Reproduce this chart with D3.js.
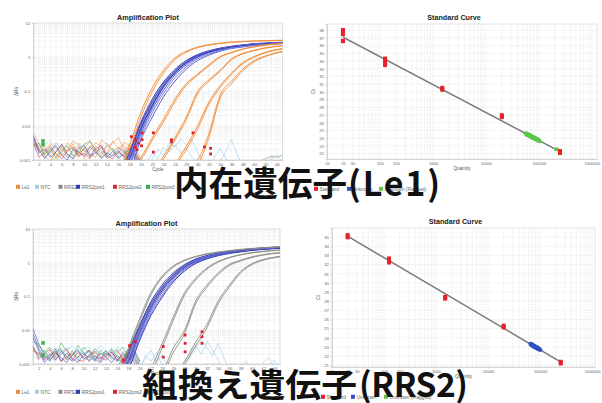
<!DOCTYPE html>
<html>
<head>
<meta charset="utf-8">
<script src="https://cdn.jsdelivr.net/npm/d3@7/dist/d3.min.js"></script>
<style>
  html, body { margin: 0; padding: 0; background: #fff; }
  svg { display: block; }
</style>
</head>
<body>
<svg id="chart" width="602" height="403"></svg>
<script>
// ---------- axis values ----------
const cycleTicks = [2,4,6,8,10,12,14,16,18,20,22,24,26,28,30,32,34,36,38,40,42,44];
const rnTicks = [0.001, 0.01, 0.1, 1, 10];
const rnTickLabels = ["0.001", "0.01", "0.1", "1", "10"];
const qtyTicks = [10, 20, 30, 100, 200, 1000, 10000, 100000, 1000000];
const ctTicksTop = [22,23,24,25,26,27,28,29,30,31,32,33,34,35,36,37,38];
const ctTicksBottom = [21,22,23,24,25,26,27,28,29,30,31,32,33,34,35];

const ampLegend = ["Le1", "NTC", "RRS2", "RRS2pos1", "RRS2pos2", "RRS2pos3"];
const stdLegend = ["Standard", "Unknown", "Unknown (Flagged)"];

// ---------- cycle grids ----------
const ampCycles = [16,18,20,22,24,26,28,30,32,34,36,38,40,42,45];
const baseCycles = [1,2,3,4,5,6,7,8,9,10,11,12,13,14,15,16,17,18,19,20];
const lateCycles = [20,21,22,23,24,25,26,27,28,29,30,31,32,33,34,35,36,37,38,39,40,41,42,43,44,45];

// ---------- Le1 run: amplification (ΔRn at ampCycles) ----------
const curvesTop = [
  {s:"Le1", v:[0.0004,0.0028,0.025,0.13,0.42,0.95,1.5,2.0,2.35,2.6,2.8,2.9,3.0,3.05,3.15]},
  {s:"Le1", v:[0.0003,0.002,0.018,0.10,0.35,0.85,1.4,1.9,2.25,2.5,2.7,2.85,2.95,3.0,3.1]},
  {s:"Le1", v:[0.0003,0.0005,0.0012,0.0045,0.016,0.06,0.17,0.32,0.6,1.05,1.4,1.75,2.05,2.3,2.6]},
  {s:"Le1", v:[0.0003,0.0004,0.001,0.0038,0.013,0.05,0.15,0.3,0.56,1.0,1.35,1.7,2.0,2.25,2.55]},
  {s:"Le1", v:[0.0003,0.0003,0.0004,0.0005,0.0013,0.0045,0.018,0.1,0.22,0.42,0.9,1.3,1.6,1.9,2.2]},
  {s:"Le1", v:[0.0003,0.0003,0.0004,0.0005,0.0011,0.0038,0.015,0.085,0.2,0.39,0.85,1.25,1.55,1.85,2.15]},
  {s:"Le1", v:[0.0003,0.0003,0.0003,0.0004,0.0005,0.0008,0.0025,0.01,0.05,0.15,0.35,0.7,1.05,1.4,1.8]},
  {s:"Le1", v:[0.0003,0.0003,0.0003,0.0004,0.0005,0.0007,0.002,0.008,0.042,0.13,0.32,0.65,1.0,1.35,1.75]},
  {s:"Le1", v:[0.0003,0.0003,0.0003,0.0003,0.0004,0.0005,0.0006,0.001,0.006,0.08,0.2,0.45,0.8,1.1,1.5]},
  {s:"Le1", v:[0.0003,0.0003,0.0003,0.0003,0.0004,0.0005,0.0006,0.0008,0.0045,0.065,0.17,0.4,0.74,1.05,1.45]},
  {s:"RRS2pos2", v:[0.0004,0.0016,0.011,0.05,0.16,0.39,0.72,1.12,1.48,1.78,2.03,2.23,2.43,2.53,2.68]},
  {s:"RRS2pos3", v:[0.0005,0.0019,0.009,0.04,0.14,0.36,0.7,1.1,1.45,1.75,2.0,2.2,2.4,2.5,2.65]}
];
const bundleTop = [
  [0.0003,0.0015,0.011,0.05,0.17,0.4,0.75,1.15,1.5,1.8,2.05,2.25,2.45,2.55,2.7],
  [0.0003,0.0012,0.009,0.042,0.15,0.37,0.7,1.1,1.45,1.75,2.0,2.2,2.4,2.5,2.65],
  [0.0003,0.001,0.007,0.035,0.13,0.33,0.65,1.03,1.4,1.7,1.95,2.15,2.35,2.45,2.6],
  [0.0003,0.0018,0.013,0.06,0.19,0.44,0.8,1.2,1.55,1.85,2.1,2.3,2.5,2.6,2.75],
  [0.0003,0.0008,0.006,0.03,0.11,0.3,0.6,0.98,1.35,1.65,1.9,2.1,2.3,2.4,2.55],
  [0.0003,0.0014,0.01,0.046,0.16,0.39,0.72,1.12,1.48,1.78,2.03,2.23,2.43,2.53,2.68],
  [0.0003,0.0011,0.008,0.038,0.14,0.35,0.68,1.07,1.43,1.73,1.98,2.18,2.38,2.48,2.62],
  [0.0003,0.0005,0.004,0.018,0.07,0.2,0.45,0.8,1.15,1.5,1.8,2.0,2.2,2.35,2.5],
  [0.0003,0.0007,0.005,0.024,0.09,0.25,0.52,0.9,1.25,1.58,1.85,2.05,2.26,2.38,2.52]
];
const noiseTop = [
  {s:"Le1", v:[0.006,0.003,0.0015,0.002,0.0012,0.0025,0.0018,0.003,0.0014,0.0022,0.0035,0.002,0.0013,0.0028,0.0019,0.0024,0.0016,0.003,0.0012,0.0008]},
  {s:"Le1", v:[0.004,0.0022,0.0013,0.0009,0.0018,0.0028,0.0012,0.0016,0.0026,0.0011,0.0019,0.0032,0.0025,0.0015,0.0036,0.0022,0.0028,0.0018,0.0025,0.001]},
  {s:"Le1", v:[0.0035,0.0018,0.0026,0.0014,0.0009,0.0016,0.0032,0.0021,0.0012,0.0024,0.0015,0.0012,0.0038,0.0029,0.002,0.0015,0.0034,0.0026,0.0014,0.0006]},
  {s:"Le1", v:[0.003,0.0025,0.0019,0.003,0.0022,0.0013,0.0021,0.0036,0.0028,0.0017,0.0026,0.0021,0.0016,0.0024,0.0031,0.0045,0.0021,0.0013,0.0019,0.0009]},
  {s:"RRS2pos1", v:[0.005,0.002,0.0011,0.0019,0.0026,0.0014,0.001,0.0021,0.0017,0.0013,0.0024,0.0017,0.0011,0.0016,0.0013,0.0019,0.0012,0.0017,0.0011,0.0007]},
  {s:"RRS2pos1", v:[0.0045,0.0016,0.0021,0.0012,0.0017,0.0029,0.0015,0.0011,0.0022,0.0027,0.0013,0.0016,0.0024,0.0012,0.0018,0.0011,0.0015,0.0021,0.0013,0.0008]},
  {s:"RRS2pos3", v:[0.0025,0.0031,0.0014,0.0023,0.0011,0.0019,0.0026,0.0013,0.0017,0.0029,0.0036,0.0018,0.0012,0.0015,0.0022,0.0012,0.0018,0.0011,0.0015,0.0009]},
  {s:"RRS2pos2", v:[0.0032,0.0012,0.0017,0.0026,0.0015,0.0011,0.0018,0.0024,0.0013,0.0016,0.0011,0.0021,0.0027,0.0013,0.0011,0.0017,0.0013,0.0023,0.0016,0.0008]},
  {s:"NTC", v:[0.0021,0.0015,0.0028,0.0038,0.0021,0.0017,0.0012,0.0019,0.0031,0.0019,0.0014,0.0019,0.0014,0.0032,0.0019,0.0014,0.0024,0.0015,0.0019,0.001]},
  {s:"RRS2", v:[0.0028,0.0019,0.0012,0.0016,0.0031,0.0021,0.0014,0.0011,0.0016,0.0021,0.0012,0.0026,0.0018,0.0011,0.0014,0.0022,0.0019,0.0014,0.0011,0.0007]}
];
const lateTop = [
  {s:"NTC", v:[0.0008,0.0006,0.0011,0.0021,0.0013,0.0032,0.0024,0.0041,0.0028,0.0038,0.0017,0.0009,0.0006,0.0005,0.0009,0.0018,0.0039,0.0014,0.0007,0.0005,0.0006,0.0005,0.0008,0.0012,0.0007,0.0005]},
  {s:"NTC", v:[0.0006,0.0009,0.0016,0.0011,0.0024,0.0017,0.0028,0.0016,0.0022,0.0012,0.0008,0.0005,0.0006,0.0012,0.0022,0.0011,0.0006,0.0005,0.0005,0.0009,0.0007,0.0005,0.0006,0.0011,0.0014,0.0009]},
  {s:"RRS2", v:[0.0005,0.0005,0.0005,0.0005,0.0005,0.0005,0.0005,0.0005,0.0005,0.0005,0.0005,0.0005,0.0005,0.0005,0.0005,0.0005,0.0005,0.0005,0.0005,0.0005,0.0008,0.0009,0.0011,0.0013,0.0012,0.0014]}
];
const ctMarksTop = [[18.3,0.0048],[19.0,0.0039],[19.0,0.0024],[19.3,0.002],[19.6,0.0031],[20.2,0.0062],[20.2,0.0039],[20.1,0.0026],[22.2,0.0062],[22.2,0.0017],[25.4,0.0034],[25.4,0.0039],[29.2,0.0062],[31.2,0.0024],[32.3,0.0022],[32.3,0.0015]];
const greenMarksTop = [[2.7,0.0036],[2.7,0.0028]];

// ---------- RRS2 run: amplification ----------
const curvesBottom = [
  {s:"RRS2", v:[0.0003,0.003,0.022,0.13,0.4,0.8,1.2,1.55,1.85,2.1,2.3,2.5,2.65,2.8,3.0]},
  {s:"RRS2", v:[0.0003,0.0025,0.018,0.11,0.36,0.75,1.15,1.5,1.8,2.05,2.25,2.45,2.6,2.75,2.95]},
  {s:"RRS2", v:[0.0003,0.0003,0.0004,0.0008,0.004,0.025,0.13,0.35,0.7,1.1,1.45,1.75,2.0,2.2,2.4]},
  {s:"RRS2", v:[0.0003,0.0003,0.0004,0.0006,0.003,0.02,0.11,0.31,0.65,1.05,1.4,1.7,1.95,2.15,2.35]},
  {s:"RRS2", v:[0.0003,0.0003,0.0003,0.0004,0.0006,0.003,0.01,0.075,0.22,0.5,0.9,1.2,1.5,1.75,2.0]},
  {s:"RRS2", v:[0.0003,0.0003,0.0003,0.0004,0.0005,0.0022,0.008,0.062,0.19,0.45,0.83,1.13,1.42,1.68,1.95]},
  {s:"RRS2", v:[0.0003,0.0003,0.0003,0.0003,0.0004,0.0005,0.0012,0.0045,0.015,0.075,0.22,0.55,0.95,1.25,1.55]},
  {s:"RRS2", v:[0.0003,0.0003,0.0003,0.0003,0.0004,0.0005,0.001,0.0035,0.012,0.062,0.19,0.5,0.88,1.18,1.48]},
  {s:"RRS2pos2", v:[0.0006,0.0024,0.013,0.06,0.19,0.45,0.82,1.22,1.58,1.88,2.13,2.35,2.55,2.7,2.9]},
  {s:"RRS2pos2", v:[0.0005,0.0019,0.011,0.052,0.17,0.41,0.77,1.16,1.52,1.82,2.08,2.3,2.5,2.65,2.85]},
  {s:"RRS2pos3", v:[0.0008,0.0028,0.012,0.055,0.18,0.43,0.8,1.2,1.55,1.85,2.1,2.32,2.52,2.68,2.88]}
];
const bundleBottom = [
  [0.0004,0.0022,0.014,0.07,0.22,0.5,0.88,1.3,1.65,1.95,2.2,2.4,2.6,2.75,2.95],
  [0.0003,0.0018,0.012,0.06,0.19,0.45,0.82,1.22,1.58,1.88,2.13,2.35,2.55,2.7,2.9],
  [0.0003,0.0015,0.01,0.052,0.17,0.41,0.77,1.16,1.52,1.82,2.08,2.3,2.5,2.65,2.85],
  [0.0003,0.0012,0.0085,0.045,0.15,0.37,0.72,1.1,1.46,1.77,2.03,2.25,2.45,2.6,2.8],
  [0.0003,0.001,0.007,0.038,0.13,0.33,0.67,1.05,1.4,1.72,1.98,2.2,2.4,2.56,2.76],
  [0.0003,0.0008,0.006,0.032,0.11,0.3,0.62,1.0,1.35,1.67,1.93,2.15,2.36,2.52,2.72],
  [0.0003,0.0007,0.005,0.027,0.095,0.27,0.57,0.95,1.3,1.62,1.88,2.1,2.32,2.48,2.68],
  [0.0003,0.0013,0.009,0.048,0.16,0.39,0.75,1.13,1.49,1.8,2.05,2.27,2.47,2.62,2.82]
];
const noiseBottom = [
  {s:"RRS2pos1", v:[0.011,0.004,0.0018,0.0012,0.0022,0.0015,0.0011,0.0019,0.0027,0.0014,0.0018,0.0012,0.0021,0.0016,0.0011,0.0018,0.0013,0.0016,0.0011,0.0007]},
  {s:"RRS2pos1", v:[0.008,0.003,0.0014,0.002,0.0013,0.0024,0.0017,0.0012,0.0016,0.0022,0.0012,0.0017,0.0014,0.0025,0.0016,0.0012,0.0022,0.0014,0.0018,0.0009]},
  {s:"RRS2pos1", v:[0.006,0.0025,0.0011,0.0016,0.0028,0.0012,0.0021,0.0015,0.0011,0.0019,0.0026,0.0014,0.0011,0.0017,0.0023,0.0014,0.0011,0.0019,0.0024,0.0012]},
  {s:"RRS2pos3", v:[0.0045,0.0038,0.0022,0.0031,0.0016,0.0042,0.0024,0.0017,0.0036,0.0021,0.0015,0.0028,0.0019,0.0024,0.0014,0.0021,0.0032,0.0017,0.0026,0.0011]},
  {s:"RRS2pos3", v:[0.003,0.0018,0.0026,0.0013,0.0021,0.0029,0.0014,0.0025,0.0015,0.0031,0.0022,0.0013,0.0026,0.0018,0.0029,0.0016,0.0013,0.0024,0.0015,0.0009]},
  {s:"RRS2pos2", v:[0.0035,0.0014,0.002,0.0027,0.0014,0.0019,0.0028,0.0013,0.0022,0.0016,0.0025,0.0018,0.0012,0.0021,0.0017,0.0026,0.0014,0.0012,0.0021,0.0012]},
  {s:"RRS2pos2", v:[0.0025,0.0021,0.0013,0.0018,0.0024,0.0012,0.0016,0.0021,0.0013,0.0012,0.0018,0.0024,0.0016,0.0013,0.0022,0.0013,0.0019,0.0015,0.0013,0.0008]},
  {s:"NTC", v:[0.002,0.0028,0.0017,0.0023,0.0031,0.0018,0.0026,0.0035,0.0022,0.0028,0.0033,0.0021,0.0036,0.0024,0.0018,0.0029,0.0021,0.0016,0.0023,0.0011]},
  {s:"RRS2", v:[0.0032,0.0016,0.0022,0.0014,0.0019,0.0026,0.0013,0.0018,0.0024,0.0015,0.0013,0.0022,0.0015,0.0019,0.0026,0.0012,0.0017,0.0022,0.0014,0.0009]},
  {s:"NTC", v:[0.0018,0.0013,0.0024,0.0016,0.0012,0.0021,0.0032,0.0019,0.0013,0.0024,0.0018,0.0029,0.0022,0.0013,0.0017,0.0034,0.0024,0.0019,0.0028,0.0014]}
];
const lateBottom = [
  {s:"NTC", v:[0.0009,0.0014,0.0026,0.0011,0.0019,0.0008,0.0006,0.0005,0.0009,0.0016,0.0028,0.0052,0.0031,0.0018,0.0041,0.0015,0.0007,0.0005,0.0005,0.0006,0.0005,0.0005,0.0011,0.0016,0.0008,0.0005]},
  {s:"NTC", v:[0.0006,0.0018,0.0012,0.0022,0.0009,0.0006,0.0005,0.0007,0.0012,0.0021,0.0036,0.0019,0.0048,0.0026,0.0013,0.0006,0.0005,0.0005,0.0009,0.0012,0.0006,0.0005,0.0005,0.0009,0.0013,0.0007]}
];
const ctMarksBottom = [[17.1,0.0013],[18.2,0.0035],[19.2,0.0046],[24.2,0.0033],[24.2,0.0016],[28.1,0.0072],[28.1,0.0041],[28.1,0.0023],[31.1,0.009],[31.1,0.0064],[31.1,0.0041]];
const greenMarksBottom = [[2.8,0.0042],[2.8,0.0018]];

// ---------- standard curves ----------
const stdQtyTop = [20,20,20,125,125,125,125,1500,1500,20000,20000,250000,250000];
const stdCtTop  = [38.0,37.5,36.6,34.3,34.0,33.7,33.5,30.5,30.3,26.95,26.75,22.3,22.1];
const unkQtyTop = [57000,59000,61000,62500,64000,66000,67500,69000,71000,73000,75000,77000,79000,81000,84000,87000,90000,94000,98000,103000,215000];
const unkCtTop  = [24.65,24.45,24.55,24.38,24.47,24.30,24.40,24.22,24.30,24.12,24.20,24.05,24.14,23.96,24.05,23.86,23.93,23.74,23.80,23.60,22.55];
const fitTop = [[20, 37.1], [215000, 22.5]];

const stdQtyBottom = [20,20,125,125,125,1500,1500,20000,20000,250000,250000];
const stdCtBottom  = [35.2,35.0,32.65,32.45,32.25,28.45,28.3,25.3,25.15,21.35,21.2];
const unkQtyBottom = [66000,68000,70000,72000,74000,76000,78000,80000,83000,86000,89000,92000,96000,100000];
const unkCtBottom  = [23.35,23.20,23.28,23.12,23.18,23.02,23.10,22.95,23.02,22.86,22.93,22.76,22.80,22.66];
const fitBottom = [[20, 35.1], [250000, 21.35]];

// ---------- styling ----------
const palette = {
  "Le1": "#f28a35", "NTC": "#9dd0ef", "RRS2": "#8b8b84",
  "RRS2pos1": "#2f3cb4", "RRS2pos2": "#d3263a", "RRS2pos3": "#37a851"
};
const stdPalette = {"Standard": "#e8202a", "Unknown": "#2f4fc4", "Unknown (Flagged)": "#5cc44a"};
const FONT = '"Liberation Sans", Arial, sans-serif';
const svg = d3.select("#chart");
svg.append("rect").attr("width", 602).attr("height", 403).attr("fill", "#fff");
let clipSeq = 0;

function styleAxis(sel, size) {
  sel.selectAll("text").attr("font-size", size).attr("font-family", FONT).attr("fill", "#666");
  sel.selectAll("path, line").attr("stroke", "#c4c4c4").attr("stroke-width", 0.6);
}

function addClip(g, box) {
  const id = "plotclip" + (clipSeq++);
  g.append("clipPath").attr("id", id).append("rect")
    .attr("x", box.x0).attr("y", box.y0)
    .attr("width", box.x1 - box.x0).attr("height", box.y1 - box.y0);
  return id;
}

function drawAmplification(box, set) {
  const x = d3.scaleLinear().domain([1, 45]).range([box.x0, box.x1]);
  const y = d3.scaleLog().domain([0.001, 10]).range([box.y1, box.y0]);
  const g = svg.append("g");
  const clip = addClip(g, box);

  g.append("text").attr("x", (box.x0 + box.x1) / 2 - 10).attr("y", box.y0 - 3.5)
    .attr("text-anchor", "middle").attr("font-family", FONT).attr("font-weight", "bold")
    .attr("font-size", 7.3).attr("fill", "#222").text("Amplification Plot");

  // grid: one vertical line per cycle, log minor lines horizontally
  const grid = g.append("g");
  grid.selectAll("line.v").data(d3.range(1, 46)).join("line").attr("class", "v")
    .attr("x1", d => x(d)).attr("x2", d => x(d)).attr("y1", box.y0).attr("y2", box.y1)
    .attr("stroke", "#dcdcdc").attr("stroke-width", 0.5).attr("stroke-dasharray", "1.2,0.9");
  grid.selectAll("line.h").data(y.ticks()).join("line").attr("class", "h")
    .attr("x1", box.x0).attr("x2", box.x1).attr("y1", d => y(d)).attr("y2", d => y(d))
    .attr("stroke", "#d6d6d6").attr("stroke-width", 0.5).attr("stroke-dasharray", "1.2,0.9");
  g.append("rect").attr("x", box.x0).attr("y", box.y0)
    .attr("width", box.x1 - box.x0).attr("height", box.y1 - box.y0)
    .attr("fill", "none").attr("stroke", "#cfcfcf").attr("stroke-width", 0.6);

  const xa = g.append("g").attr("transform", `translate(0,${box.y1})`)
    .call(d3.axisBottom(x).tickValues(cycleTicks).tickSize(1.5).tickPadding(1.5));
  styleAxis(xa, 4.3);
  const ya = g.append("g").attr("transform", `translate(${box.x0},0)`)
    .call(d3.axisLeft(y).tickValues(rnTicks).tickSize(1.5).tickPadding(1.5)
      .tickFormat((d, i) => rnTickLabels[i]));
  styleAxis(ya, 4.3);

  g.append("text").attr("x", (box.x0 + box.x1) / 2).attr("y", box.y1 + 10.5)
    .attr("text-anchor", "middle").attr("font-family", FONT).attr("font-size", 4.6)
    .attr("fill", "#555").text("Cycle");
  g.append("text").attr("transform", `translate(${box.x0 - 15},${(box.y0 + box.y1) / 2}) rotate(-90)`)
    .attr("text-anchor", "middle").attr("font-family", FONT).attr("font-size", 4.6)
    .attr("fill", "#555").text("ΔRn");

  const plot = g.append("g").attr("clip-path", `url(#${clip})`);
  const line = d3.line().x(d => x(d[0])).y(d => y(Math.max(d[1], 1e-4))).curve(d3.curveMonotoneX);
  const seg = d3.line().x(d => x(d[0])).y(d => y(Math.max(d[1], 1e-4)));

  set.noise.forEach(tr => {
    plot.append("path").datum(baseCycles.map((c, i) => [c, tr.v[i]]))
      .attr("d", seg).attr("fill", "none").attr("stroke", palette[tr.s])
      .attr("stroke-width", 0.7).attr("opacity", 0.8);
  });
  set.late.forEach(tr => {
    plot.append("path").datum(lateCycles.map((c, i) => [c, tr.v[i]]))
      .attr("d", seg).attr("fill", "none").attr("stroke", palette[tr.s])
      .attr("stroke-width", 0.7).attr("opacity", 0.9);
  });
  // red / green replicate traces sit beneath the blue bundle
  set.curves.filter(c => c.s === "RRS2pos2" || c.s === "RRS2pos3").forEach(c => {
    plot.append("path").datum(ampCycles.map((cy, i) => [cy, c.v[i]]))
      .attr("d", line).attr("fill", "none").attr("stroke", palette[c.s]).attr("stroke-width", 0.9);
  });
  set.bundle.forEach((v, k) => {
    plot.append("path").datum(ampCycles.map((cy, i) => [cy, v[i]]))
      .attr("d", line).attr("fill", "none")
      .attr("stroke", k % 3 === 1 ? "#5a5fd0" : (k % 3 === 2 ? "#7a7ee0" : palette.RRS2pos1))
      .attr("stroke-width", 1.0);
  });
  set.curves.filter(c => c.s !== "RRS2pos2" && c.s !== "RRS2pos3").forEach(c => {
    plot.append("path").datum(ampCycles.map((cy, i) => [cy, c.v[i]]))
      .attr("d", line).attr("fill", "none").attr("stroke", palette[c.s]).attr("stroke-width", 0.9);
  });
  plot.selectAll("rect.ct").data(set.marks).join("rect").attr("class", "ct")
    .attr("x", d => x(d[0]) - 1.4).attr("y", d => y(d[1]) - 1.4)
    .attr("width", 2.8).attr("height", 2.8).attr("fill", "#e0202e");
  plot.selectAll("rect.gm").data(set.greenMarks).join("rect").attr("class", "gm")
    .attr("x", d => x(d[0]) - 1.8).attr("y", d => y(d[1]) - 1.8)
    .attr("width", 3.6).attr("height", 3.6).attr("fill", "#3fb34f");

  // legend row
  const legX = [16, 35, 58.5, 76, 113, 146];
  const leg = g.append("g");
  ampLegend.forEach((name, i) => {
    leg.append("rect").attr("x", legX[i]).attr("y", set.legendY - 2.2)
      .attr("width", 4).attr("height", 4).attr("fill", palette[name]);
    leg.append("text").attr("x", legX[i] + 5.5).attr("y", set.legendY + 1.6)
      .attr("font-family", FONT).attr("font-size", 4.8).attr("fill", "#666").text(name);
  });
}

function drawStandard(box, set) {
  const x = d3.scaleLog().domain(set.xDomain).range([box.x0, box.x1]);
  const y = d3.scaleLinear().domain(set.yDomain).range([box.y1, box.y0]);
  const g = svg.append("g");
  const clip = addClip(g, box);

  g.append("text").attr("x", (box.x0 + box.x1) / 2 - 8).attr("y", box.y0 - 4)
    .attr("text-anchor", "middle").attr("font-family", FONT).attr("font-weight", "bold")
    .attr("font-size", 7.2).attr("fill", "#222").text("Standard Curve");

  const grid = g.append("g");
  grid.selectAll("line.v").data(x.ticks()).join("line").attr("class", "v")
    .attr("x1", d => x(d)).attr("x2", d => x(d)).attr("y1", box.y0).attr("y2", box.y1)
    .attr("stroke", "#d8d8d8").attr("stroke-width", 0.5).attr("stroke-dasharray", "1.2,0.9");
  grid.selectAll("line.h").data(set.ctTicks).join("line").attr("class", "h")
    .attr("x1", box.x0).attr("x2", box.x1).attr("y1", d => y(d)).attr("y2", d => y(d))
    .attr("stroke", "#dadada").attr("stroke-width", 0.5).attr("stroke-dasharray", "1.2,0.9");
  g.append("rect").attr("x", box.x0).attr("y", box.y0)
    .attr("width", box.x1 - box.x0).attr("height", box.y1 - box.y0)
    .attr("fill", "none").attr("stroke", "#cfcfcf").attr("stroke-width", 0.6);

  const xa = g.append("g").attr("transform", `translate(0,${box.y1})`)
    .call(d3.axisBottom(x).tickValues(qtyTicks).tickSize(1.5).tickPadding(1.5).tickFormat(d3.format("d")));
  styleAxis(xa, 4.1);
  const ya = g.append("g").attr("transform", `translate(${box.x0},0)`)
    .call(d3.axisLeft(y).tickValues(set.ctTicks).tickSize(1.5).tickPadding(1.5).tickFormat(d3.format("d")));
  styleAxis(ya, 4.3);

  g.append("text").attr("x", (box.x0 + box.x1) / 2).attr("y", box.y1 + 11)
    .attr("text-anchor", "middle").attr("font-family", FONT).attr("font-size", 4.6)
    .attr("fill", "#555").text("Quantity");
  g.append("text").attr("transform", `translate(${box.x0 - 12},${(box.y0 + box.y1) / 2}) rotate(-90)`)
    .attr("text-anchor", "middle").attr("font-family", FONT).attr("font-size", 4.8)
    .attr("fill", "#555").text("Ct");

  const plot = g.append("g").attr("clip-path", `url(#${clip})`);
  const fit = d3.line().x(d => x(d[0])).y(d => y(d[1]));
  plot.append("path").datum(set.fit).attr("d", fit).attr("stroke", "#9a9a9a")
    .attr("stroke-width", 1.8).attr("opacity", 0.7).attr("fill", "none");
  plot.append("path").datum(set.fit).attr("d", fit).attr("stroke", "#333")
    .attr("stroke-width", 0.6).attr("fill", "none");

  const unk = set.unkQty.map((q, i) => [q, set.unkCt[i]]);
  plot.selectAll("ellipse.u").data(unk).join("ellipse").attr("class", "u")
    .attr("cx", d => x(d[0])).attr("cy", d => y(d[1])).attr("rx", 2.4).attr("ry", 2.0)
    .attr("fill", stdPalette[set.unkKind]);
  const std = set.stdQty.map((q, i) => [q, set.stdCt[i]]);
  plot.selectAll("rect.s").data(std).join("rect").attr("class", "s")
    .attr("x", d => x(d[0]) - 2).attr("y", d => y(d[1]) - 2.2)
    .attr("width", 4).attr("height", 4.4).attr("fill", stdPalette.Standard);

  const legX = set.legendX;
  stdLegend.forEach((name, i) => {
    g.append("rect").attr("x", legX[i]).attr("y", set.legendY - 2.2)
      .attr("width", 4).attr("height", 4).attr("fill", stdPalette[name]);
    g.append("text").attr("x", legX[i] + 5.5).attr("y", set.legendY + 1.6)
      .attr("font-family", FONT).attr("font-size", 4.8).attr("fill", "#666").text(name);
  });
}

drawAmplification({x0: 33.4, x1: 282.5, y0: 23, y1: 160},
  {noise: noiseTop, late: lateTop, curves: curvesTop, bundle: bundleTop,
   marks: ctMarksTop, greenMarks: greenMarksTop, legendY: 187});
drawAmplification({x0: 33, x1: 280, y0: 229, y1: 364},
  {noise: noiseBottom, late: lateBottom, curves: curvesBottom, bundle: bundleBottom,
   marks: ctMarksBottom, greenMarks: greenMarksBottom, legendY: 392});

drawStandard({x0: 327, x1: 597, y0: 24, y1: 159},
  {xDomain: [10, 1.25e6], yDomain: [21.3, 38.8], ctTicks: ctTicksTop,
   stdQty: stdQtyTop, stdCt: stdCtTop, unkQty: unkQtyTop, unkCt: unkCtTop,
   unkKind: "Unknown (Flagged)", fit: fitTop, legendX: [314, 347, 379], legendY: 189});
drawStandard({x0: 332, x1: 595, y0: 228, y1: 367},
  {xDomain: [10, 1.14e6], yDomain: [20.8, 36.0], ctTicks: ctTicksBottom,
   stdQty: stdQtyBottom, stdCt: stdCtBottom, unkQty: unkQtyBottom, unkCt: unkCtBottom,
   unkKind: "Unknown", fit: fitBottom, legendX: [321, 351, 384], legendY: 397});

// large headings for the two genes
const JP = '"Noto Sans CJK JP", "Noto Sans CJK SC", sans-serif';
function heading(jp, jpX, jpW, latin, latX, latW, baseline, size) {
  svg.append("text").attr("x", jpX).attr("y", baseline).attr("font-family", JP)
    .attr("font-weight", 700).attr("font-size", size).attr("fill", "#111")
    .attr("textLength", jpW).attr("lengthAdjust", "spacingAndGlyphs").text(jp);
  svg.append("text").attr("x", latX).attr("y", baseline).attr("font-family", JP)
    .attr("font-weight", 700).attr("font-size", size).attr("fill", "#111")
    .attr("textLength", latW).attr("lengthAdjust", "spacing").text(latin);
}
heading("内在遺伝子", 174, 173, "(Le1)", 348, 92, 196, 34);
heading("組換え遺伝子", 142, 215, "(RRS2)", 359, 109, 397, 33.5);
</script>
</body>
</html>
